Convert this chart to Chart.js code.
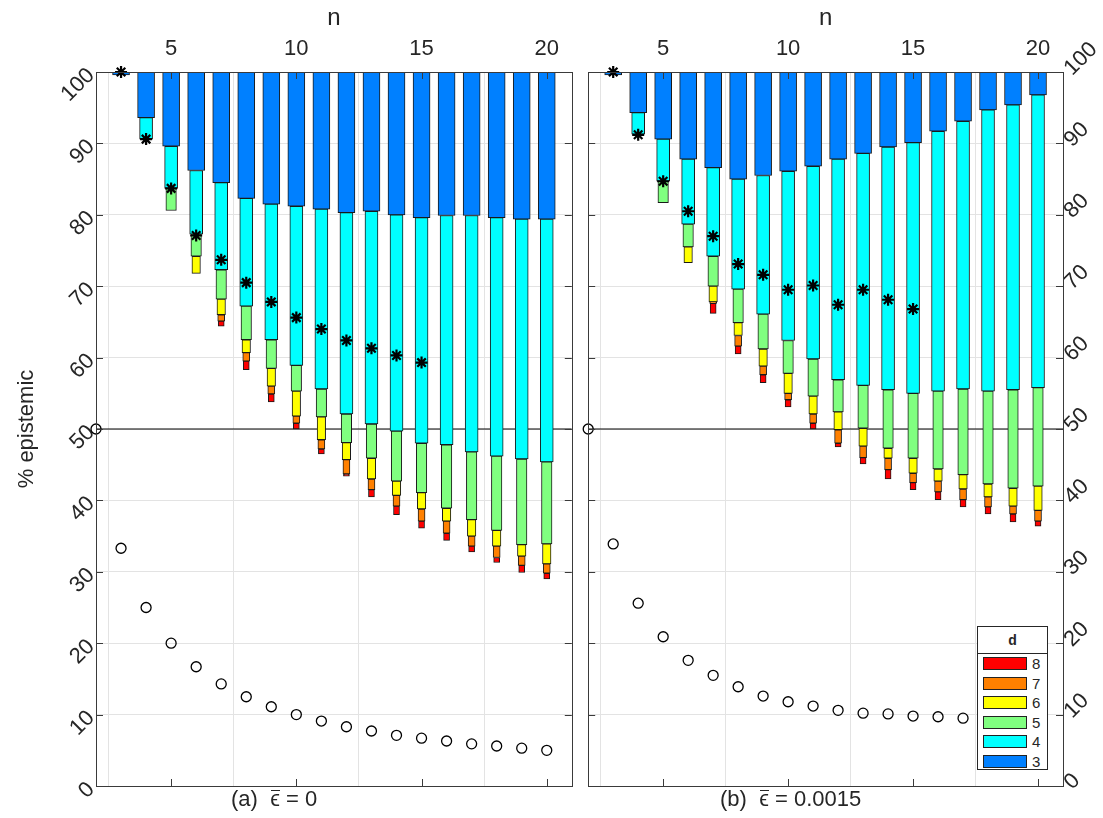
<!DOCTYPE html>
<html><head><meta charset="utf-8">
<script src="https://cdn.jsdelivr.net/npm/chart.js@4/dist/chart.umd.min.js"></script>
<style>
body{margin:0;width:1103px;height:818px;background:#fff;position:relative;overflow:hidden;font-family:"Liberation Sans",Arial,sans-serif;}
canvas{position:absolute;top:0;}
#cA{left:0;} #cB{left:580px;}
.cap{position:absolute;top:786px;font-size:22px;color:#262626;white-space:pre;line-height:26px;}
.eps{position:relative;display:inline-block;}
.eps::after{content:'';position:absolute;left:1px;right:0px;top:4px;border-top:1.5px solid #262626;}
#legend{position:absolute;left:977px;top:626px;width:71px;height:144px;border:1px solid #262626;background:#fff;box-sizing:border-box;}
#legend .lt{position:absolute;left:0;top:0;width:100%;height:26px;line-height:26px;text-align:center;font-weight:bold;font-size:14px;color:#262626;border-bottom:1px solid #262626;}
#legend .sw{position:absolute;left:5px;width:44px;height:13px;border:1px solid #222;box-sizing:border-box;}
#legend .lb{position:absolute;left:54px;font-size:15px;line-height:15px;color:#262626;}
</style></head>
<body>
<canvas id="cA" width="580" height="818"></canvas>
<canvas id="cB" width="523" height="818"></canvas>
<div class="cap" style="left:231px">(a)  <span class="eps">ϵ</span> = 0</div>
<div class="cap" style="left:720px">(b)  <span class="eps">ϵ</span> = 0.0015</div>
<div id="legend"><div class="lt">d</div></div>
<script>
// ---------- data ----------
const nValues = [3,4,5,6,7,8,9,10,11,12,13,14,15,16,17,18,19,20];
const xTicks = [5,10,15,20];
const yTicks = [0,10,20,30,40,50,60,70,80,90,100];
const dLevels = [3,4,5,6,7,8];
const dColors = ['#0080ff','#00ffff','#80ff80','#ffff00','#ff8000','#ff0000'];
const refLevel = [50,50];
const refN = [2,21];

// lower boundary of each d-segment (segments stack downward from 100), panel (a)
const aD3 = [99.6,93.6,89.6,86.2,84.5,82.3,81.5,81.2,80.8,80.3,80.5,80.0,79.6,79.9,79.9,79.6,79.4,79.4];
const aD4 = [null,90.6,83.7,77.3,72.3,67.2,62.5,58.9,55.6,52.1,50.7,49.7,48.0,47.8,46.8,46.2,45.8,45.4];
const aD5 = [null,null,80.6,74.2,68.2,62.5,58.5,55.3,51.7,48.1,45.9,42.7,41.1,38.9,37.3,35.8,33.8,33.9];
const aD6 = [null,null,null,71.8,66.0,60.7,56.0,51.8,48.5,45.7,43.0,40.7,38.8,37.1,35.0,33.6,32.2,31.1];
const aD7 = [null,null,null,null,65.1,59.5,54.9,50.8,47.2,43.7,41.5,39.2,37.1,35.4,33.6,32.0,30.9,29.8];
const aD8 = [null,null,null,null,64.4,58.3,53.8,50.0,46.5,43.4,40.5,38.0,36.1,34.4,32.8,31.3,29.9,29.0];
// panel (b)
const bD3 = [99.6,94.3,90.6,87.8,86.6,85.0,85.5,86.1,86.8,87.8,88.6,89.5,90.1,91.7,93.1,94.7,95.4,96.8];
const bD4 = [null,91.3,84.7,78.7,74.2,69.6,66.1,62.4,59.8,56.9,56.1,55.5,55.0,55.3,55.6,55.3,55.5,55.8];
const bD5 = [null,null,81.7,75.5,70.0,64.9,61.2,57.8,54.6,52.4,50.1,47.3,45.9,44.4,43.6,42.3,41.7,42.0];
const bD6 = [null,null,null,73.3,67.8,63.1,58.8,55.0,52.1,49.9,47.6,45.9,43.8,42.7,41.6,40.5,39.2,38.6];
const bD7 = [null,null,null,null,67.6,61.6,57.6,54.1,50.8,48.0,46.0,44.3,42.5,41.2,40.1,39.1,38.1,37.1];
const bD8 = [null,null,null,null,66.2,60.5,56.5,53.1,50.0,47.5,45.1,43.0,41.5,40.1,39.1,38.1,37.0,36.4];

const circleN = [2,3,4,5,6,7,8,9,10,11,12,13,14,15,16,17,18,19,20];
const aCircles = [50,33.3,25.0,20.0,16.7,14.3,12.5,11.1,10.0,9.1,8.3,7.7,7.1,6.7,6.3,5.9,5.6,5.3,5.0];
const bCircles = [50,33.9,25.6,20.9,17.6,15.5,13.9,12.6,11.8,11.2,10.6,10.2,10.1,9.8,9.7,9.5,9.4,9.3,9.2];
const starN = [3,4,5,6,7,8,9,10,11,12,13,14,15];
const aStars = [100,90.6,83.7,77.1,73.7,70.5,67.8,65.6,64.0,62.4,61.3,60.3,59.3];
const bStars = [100,91.2,84.7,80.5,77.0,73.1,71.6,69.5,70.1,67.4,69.5,68.1,66.8];

// ---------- style ----------
const barWidths = [17,13,10.5,8.5,7,6];
const ink = '#262626';

function buildBars(bounds){
  return bounds.map((arr,k)=>{
    const data=[];
    nValues.forEach((n,i)=>{
      const low = arr[i];
      if(low==null) return;
      const high = k===0 ? 100 : bounds[k-1][i];
      data.push({x:n,y:[low,high]});
    });
    return {
      type:'bar', label:String(dLevels[k]), data,
      backgroundColor:dColors[k], borderColor:'#1a1a1a', borderWidth:1,
      borderSkipped:false, barThickness:barWidths[k], grouped:false, order:20-k
    };
  });
}

const framePlugin = {
  id:'frame',
  afterDatasetsDraw(chart){
    const {ctx, chartArea:a, scales} = chart;
    ctx.save();
    ctx.strokeStyle = '#3a3a3a'; ctx.lineWidth = 1;
    const L=7;
    ctx.beginPath();
    scales.y.ticks.forEach(t=>{
      const y = Math.round(scales.y.getPixelForValue(t.value))+0.5;
      ctx.moveTo(a.left,y); ctx.lineTo(a.left+L,y);
      ctx.moveTo(a.right,y); ctx.lineTo(a.right-L,y);
    });
    scales.x.ticks.forEach(t=>{
      const x = Math.round(scales.x.getPixelForValue(t.value))+0.5;
      ctx.moveTo(x,a.top); ctx.lineTo(x,a.top+L);
      ctx.moveTo(x,a.bottom); ctx.lineTo(x,a.bottom-L);
    });
    ctx.stroke();
    ctx.strokeRect(Math.round(a.left)+0.5, Math.round(a.top)+0.5, Math.round(a.right-a.left), Math.round(a.bottom-a.top));
    ctx.restore();
  }
};

function makeChart(id, bounds, circles, stars, side){
  const datasets = [
    {type:'line', data:refN.map((x,i)=>({x, y:refLevel[i]})), borderColor:'#000', borderWidth:1, pointRadius:0, order:30, fill:false},
    ...buildBars(bounds),
    {type:'scatter', data:starN.map((x,i)=>({x, y:stars[i]})), pointStyle:'star', pointRadius:6, borderWidth:2.2, borderColor:'#000', backgroundColor:'#000', order:1, clip:false},
    {type:'scatter', data:circleN.map((x,i)=>({x, y:circles[i]})), pointStyle:'circle', pointRadius:5, borderWidth:1.3, borderColor:'#000', backgroundColor:'rgba(0,0,0,0)', order:0, clip:false}
  ];
  const left = side==='left';
  return new Chart(document.getElementById(id), {
    type:'scatter',
    data:{datasets},
    plugins:[framePlugin],
    options:{
      responsive:false, animation:false, events:[],
      layout:{padding: left ? {left:0,right:7,top:0,bottom:32} : {left:6,right:0,top:0,bottom:32}},
      plugins:{legend:{display:false}, tooltip:{enabled:false}},
      scales:{
        x:{
          type:'linear', position:'top', min:2, max:21, offset:false,
          afterBuildTicks: s => { s.ticks = xTicks.map(v=>({value:v})); },
          afterFit: s => { s.height = 72; },
          grid:{color:'#e3e3e3', drawTicks:false, lineWidth:1},
          border:{display:false},
          ticks:{font:{size:22, family:'"Liberation Sans", Arial'}, color:ink, padding:10, maxRotation:0},
          title:{display:true, text:'n', font:{size:24, family:'"Liberation Sans", Arial'}, color:ink, padding:{top:4,bottom:0}}
        },
        y:{
          type:'linear', position: left?'left':'right', min:0, max:100,
          afterBuildTicks: s => { s.ticks = yTicks.map(v=>({value:v})); },
          afterFit: s => { s.width = left ? 96 : 40; },
          grid:{color:'#e3e3e3', drawTicks:false, lineWidth:1},
          border:{display:false},
          ticks:{font:{size:22, family:'"Liberation Sans", Arial'}, color:ink, padding:5, minRotation:45, maxRotation:45},
          title:{display:left, text:'% epistemic', font:{size:22, family:'"Liberation Sans", Arial'}, color:ink, padding:{top:14,bottom:0}}
        }
      }
    }
  });
}

makeChart('cA', [aD3,aD4,aD5,aD6,aD7,aD8], aCircles, aStars, 'left');
makeChart('cB', [bD3,bD4,bD5,bD6,bD7,bD8], bCircles, bStars, 'right');

// legend (d = 8 at top down to 3)
const lg = document.getElementById('legend');
const rowTops = [30,49.5,69,88.5,108,127.5];
dLevels.slice().reverse().forEach((d,i)=>{
  const k = dLevels.indexOf(d);
  const sw = document.createElement('div'); sw.className='sw';
  sw.style.top = rowTops[i]+'px'; sw.style.background = dColors[k];
  const lb = document.createElement('div'); lb.className='lb';
  lb.style.top = (rowTops[i]-1)+'px'; lb.textContent = String(d);
  lg.appendChild(sw); lg.appendChild(lb);
});
</script>
</body></html>
